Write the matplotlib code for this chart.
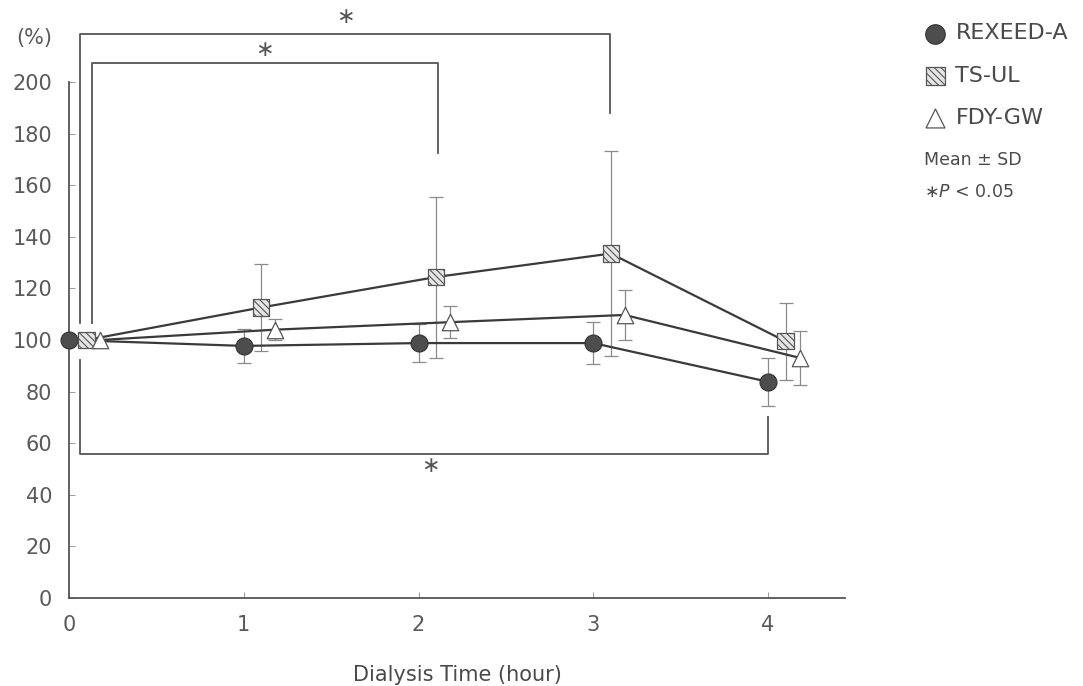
import matplotlib
matplotlib.use("Agg")
import matplotlib.pyplot as plt

plt.rcParams["font.family"] = ["DejaVu Sans"]
plt.rcParams["mathtext.fontset"] = "custom"
plt.rcParams["mathtext.it"] = "DejaVu Sans:italic"
plt.rcParams["hatch.linewidth"] = 0.8

# Data
hours = [0, 1, 2, 3, 4]
rexeed_mean = [100, 97.7, 98.8, 98.8, 83.8]
rexeed_sd = [0, 6.5, 7.3, 8.2, 9.2]
tsul_mean = [100, 112.6, 124.4, 133.5, 99.5]
tsul_sd = [0, 16.9, 31.2, 39.9, 15.0]
fdy_mean = [100, 104.0, 106.9, 109.7, 93.1]
fdy_sd = [0, 4.0, 6.3, 9.6, 10.5]

# significance brackets: (x_left, x_right, y_bar, y_left_end, y_right_end)
brackets = [
    (0.063, 3.096, 218.6, 106.6, 188.0),
    (0.13, 2.11, 207.2, 106.6, 172.5),
    (0.063, 4.0, 55.8, 92.2, 70.2),
]
star_pos = [(1.58, 225), (1.12, 212.4), (2.07, 51.2)]

line_c = "#3a3a3a"
err_c = "#8a8a8a"
txt_c = "#5a5a5a"

fig = plt.figure(figsize=(10.83, 6.86), dpi=100)
ax = fig.add_axes([0.0637, 0.1283, 0.7165, 0.7522])

def shifted(vals, dx):
    return [v + dx for v in vals]

series = [
    (hours, rexeed_mean, rexeed_sd),
    (shifted(hours, 0.10), tsul_mean, tsul_sd),
    (shifted(hours, 0.18), fdy_mean, fdy_sd),
]

for x, m, sd in series:
    ax.plot(x, m, color=line_c, lw=1.6, zorder=2, clip_on=False)
    ax.errorbar(x, m, yerr=sd, fmt="none", ecolor=err_c, elinewidth=0.9,
                capsize=5, capthick=0.9, zorder=1, clip_on=False)

h1 = ax.scatter(series[0][0], rexeed_mean, s=150, marker="o", color="#4d4d4d",
                edgecolor="#333333", linewidth=0.8, zorder=4, clip_on=False)
h2 = ax.scatter(series[1][0], tsul_mean, s=135, marker="s", facecolor="#e6e6e6",
                edgecolor="#555555", hatch="\\\\\\\\\\", linewidth=0.9, zorder=4,
                clip_on=False)
h3 = ax.scatter(series[2][0], fdy_mean, s=140, marker="^", facecolor="white",
                edgecolor="#555555", linewidth=0.9, zorder=4, clip_on=False)

for xl, xr, yb, yl, yr in brackets:
    ax.plot([xl, xl, xr, xr], [yl, yb, yb, yr], color="#555555", lw=1.3,
            clip_on=False, zorder=1)
for sx, sy in star_pos:
    ax.text(sx, sy, "\u2217", fontsize=16, color="#555555", ha="center",
            va="center")

ax.set_xlim(0, 4.44)
ax.set_ylim(0, 200)
ax.set_xticks(hours)
ax.set_yticks(range(0, 201, 20))
ax.spines["top"].set_visible(False)
ax.spines["right"].set_visible(False)
for sp in ["left", "bottom"]:
    ax.spines[sp].set_color("#555555")
    ax.spines[sp].set_linewidth(1.3)
ax.tick_params(direction="in", length=4, width=0.7, color="#999999",
               labelsize=15, labelcolor=txt_c, pad=12)
ax.set_xlabel("Dialysis Time (hour)", fontsize=15, color="#4a4a4a", labelpad=22)
ax.text(-0.022, 1.085, "(%)", transform=ax.transAxes, fontsize=15,
        color=txt_c, ha="right", va="center")

fig.legend([h1, h2, h3], ["REXEED-A", "TS-UL", "FDY-GW"],
           loc="upper left", bbox_to_anchor=(0.835, 0.995), frameon=False,
           fontsize=16, labelspacing=1.0, handletextpad=0.4, handlelength=1.0,
           markerscale=1.15, labelcolor="#4a4a4a")
fig.text(0.853, 0.767, "Mean \u00b1 SD", fontsize=12.5, color="#4a4a4a",
         va="center")
fig.text(0.853, 0.72, "\u2217$P$ < 0.05", fontsize=12.5, color="#4a4a4a",
         va="center")

fig.savefig("out.png", dpi=100)
